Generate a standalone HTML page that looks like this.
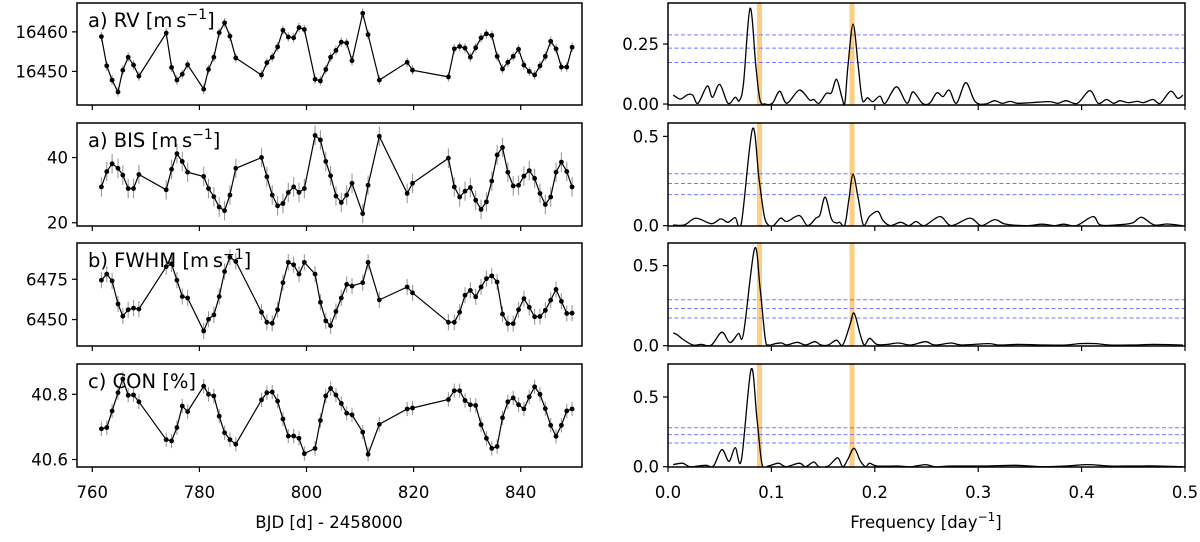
<!DOCTYPE html>
<html><head><meta charset="utf-8"><style>
body{margin:0;background:#fff}
svg text{font-family:"DejaVu Sans","Liberation Sans",sans-serif;fill:#000}
</style></head><body>
<svg id="fig" width="1200" height="537" xmlns="http://www.w3.org/2000/svg"></svg>
<script>
const times=[761.7,762.7,763.7,764.8,765.7,766.7,767.7,768.7,773.8,774.8,775.8,776.8,777.8,780.8,781.7,782.7,783.7,784.7,785.7,786.8,791.6,792.6,793.6,794.6,795.6,796.6,797.6,798.6,799.6,801.6,802.6,803.6,804.5,805.5,806.5,807.5,808.5,810.5,811.5,813.6,818.8,819.8,826.5,827.6,828.6,829.6,830.6,831.6,832.6,833.6,834.6,835.6,836.6,837.6,838.6,839.6,840.6,841.6,842.6,843.6,844.6,845.6,846.6,847.6,848.6,849.6];
const rvValues=[16458.8,16451.4,16447.8,16444.8,16450.3,16453.6,16451.6,16448.8,16459.7,16451.0,16447.8,16449.3,16451.7,16445.5,16450.5,16453.6,16459.8,16462.3,16458.9,16453.4,16449.1,16452.2,16453.6,16456.2,16460.4,16458.7,16458.5,16461.1,16460.6,16448.0,16447.6,16450.5,16453.6,16455.3,16457.4,16457.2,16452.7,16464.7,16459.3,16447.8,16452.3,16450.3,16448.6,16455.7,16456.3,16455.9,16453.6,16456.0,16458.5,16459.5,16459.1,16453.8,16450.6,16452.3,16453.8,16455.6,16451.6,16450.0,16449.1,16451.4,16453.8,16457.6,16455.7,16451.1,16451.1,16456.1];
const bisValues=[31.0,35.7,38.1,36.7,34.6,30.5,30.5,34.8,30.1,36.4,41.2,38.8,35.5,34.2,30.5,28.0,24.8,23.7,28.5,36.7,40.0,34.1,28.5,25.2,25.9,29.3,31.0,29.3,30.5,46.8,45.4,38.8,34.4,28.2,26.2,28.5,32.1,22.8,31.5,46.5,29.0,32.1,39.8,31.0,27.9,29.7,30.8,26.9,24.1,26.4,32.8,40.8,43.1,35.5,31.3,31.5,34.3,36.0,33.6,29.0,25.6,27.9,35.5,38.6,35.7,31.0];
const fwhmValues=[6474.4,6478.2,6474.0,6459.7,6452.1,6456.1,6457.1,6456.5,6482.8,6484.5,6474.4,6464.3,6463.4,6442.9,6450.2,6452.9,6464.3,6479.8,6488.7,6486.1,6454.6,6448.3,6447.7,6456.1,6472.9,6485.5,6484.0,6478.2,6485.5,6478.2,6460.7,6449.2,6446.2,6455.0,6463.4,6471.8,6470.8,6472.9,6485.5,6462.2,6470.2,6466.6,6448.3,6448.3,6454.6,6465.1,6468.1,6464.1,6470.2,6475.4,6477.1,6473.3,6453.4,6447.5,6447.5,6456.1,6463.0,6457.6,6451.7,6451.9,6455.7,6462.0,6468.7,6461.3,6453.8,6454.0];
const conValues=[40.694,40.698,40.749,40.805,40.847,40.797,40.798,40.777,40.661,40.657,40.698,40.764,40.747,40.825,40.800,40.795,40.733,40.682,40.661,40.647,40.783,40.805,40.807,40.779,40.724,40.672,40.672,40.665,40.618,40.634,40.720,40.795,40.818,40.798,40.772,40.742,40.737,40.684,40.616,40.708,40.755,40.758,40.784,40.811,40.811,40.781,40.768,40.766,40.707,40.665,40.634,40.640,40.728,40.777,40.789,40.768,40.755,40.792,40.823,40.800,40.756,40.705,40.671,40.705,40.749,40.755];
const errRV=1.2, errBIS=3, errFWHM=5, errCON=0.022;

const freqRV=[.005,.012,.019,.024,.029,.038,.043,.050,.058,.065,.069,.073,.0794,.085,.089,.094,.101,.108,.115,.127,.137,.141,.146,.153,.158,.163,.168,.171,.174,.179,.184,.188,.193,.198,.205,.210,.221,.231,.237,.246,.253,.260,.266,.272,.279,.288,.297,.307,.316,.323,.331,.338,.352,.369,.377,.385,.396,.408,.416,.424,.431,.437,.445,.454,.460,.469,.476,.486,.493,.498];
const powRV=[.0375,.021,.039,.037,.003,.075,.028,.082,.003,.028,.014,.086,.399,.156,.017,0,.003,.053,.003,.058,.017,.019,.003,.044,.047,.103,.031,.003,.156,.333,.156,.017,.026,.010,.033,.003,.072,.003,.051,.003,.003,.047,.031,.058,.003,.089,.010,0,.014,.003,.011,.003,.006,.010,.003,.014,.003,.056,.003,.019,.003,.014,.006,.011,.006,.019,.003,.053,.024,.037];
const freqBIS=[.005,.016,.027,.042,.051,.058,.065,.071,.0817,.088,.093,.097,.102,.109,.115,.127,.135,.143,.147,.152,.158,.163,.166,.171,.175,.179,.184,.189,.195,.203,.208,.215,.225,.233,.240,.248,.263,.274,.292,.303,.316,.326,.346,.362,.374,.383,.395,.411,.418,.434,.449,.458,.470,.483,.498];
const powBIS=[.004,.004,.042,.011,.038,.019,.045,.015,.542,.264,.057,.004,0,.042,.023,.057,0,.042,.060,.160,.038,.015,.019,.004,.151,.287,.151,.004,.053,.079,.028,0,.019,0,.023,0,.051,0,.042,0,.034,.009,0,.008,0,.008,0,.051,.004,.004,.015,.047,.004,.009,0];
const freqFWHM=[.005,.009,.014,.024,.032,.042,.052,.060,.068,.073,.0837,.089,.094,.097,.104,.110,.115,.125,.133,.142,.148,.155,.163,.169,.176,.180,.186,.190,.195,.202,.212,.223,.235,.249,.258,.274,.284,.310,.320,.339,.362,.385,.398,.414,.427,.450,.470,.498];
const powFWHM=[.080,.068,.042,.004,.008,.004,.084,.019,.076,.076,.605,.363,.046,.004,.013,.017,.004,.021,.004,.025,.004,.004,.034,.004,.131,.203,.068,.004,.046,.008,.008,.017,.004,.025,.004,.017,.004,.013,.004,.008,.004,.004,.013,.013,.004,.004,.008,.004];
const freqCON=[.005,.014,.021,.029,.037,.044,.052,.059,.065,.071,.0804,.086,.091,.097,.107,.114,.127,.133,.141,.146,.155,.164,.169,.174,.180,.186,.191,.195,.202,.222,.235,.249,.258,.274,.307,.336,.362,.385,.406,.427,.450,.473,.498];
const powCON=[.015,.025,0,.005,.010,.005,.123,.039,.137,.049,.699,.348,.017,.005,.025,0,.025,0,.034,0,.005,.064,0,.054,.132,.042,0,.025,.005,.005,0,.015,0,.005,.005,.010,0,.005,.015,.005,.005,.005,0];
const faps=[[.288,.233,.173],[.291,.236,.174],[.287,.232,.173],[.280,.230,.170]];
const bands=[0.0885,0.178];
const rows=[[3,105],[123,226],[243,346],[364,467]];
const leftY=[[16441.5,16467.3],[19.0,50.6],[6433.6,6497.5],[40.577,40.893]];
const rightY=[[-0.004,0.421],[-0.002,0.575],[-0.002,0.641],[-0.002,0.737]];
const leftTicks=[[16450,16460],[20,40],[6450,6475],[40.6,40.8]];
const leftTickLab=[["16450","16460"],["20","40"],["6450","6475"],["40.6","40.8"]];
const rightTicks=[[0,0.25],[0,0.5],[0,0.5],[0,0.5]];
const rightTickLab=[["0.00","0.25"],["0.0","0.5"],["0.0","0.5"],["0.0","0.5"]];
const xTicksL=[760,780,800,820,840];
const xTicksR=[0,0.1,0.2,0.3,0.4,0.5];
const xTickLabR=["0.0","0.1","0.2","0.3","0.4","0.5"];
const labels=["a) RV [m\u2009s","a) BIS [m\u2009s","b) FWHM [m\u2009s","c) CON [%]"];
const series=[rvValues,bisValues,fwhmValues,conValues];
const errs=[errRV,errBIS,errFWHM,errCON];
const freqs=[freqRV,freqBIS,freqFWHM,freqCON];
const pows=[powRV,powBIS,powFWHM,powCON];
const names=["rv","bis","fwhm","con"];

const NS="http://www.w3.org/2000/svg";
const svg=document.getElementById('fig');
function mk(tag,attrs,parent){const e=document.createElementNS(NS,tag);for(const k in attrs)e.setAttribute(k,attrs[k]);(parent||svg).appendChild(e);return e;}
const LX0=77,LX1=582,RX0=668,RX1=1185;
const TFS=16.5;
const xL=d=>92.3+(d-760)*5.355;
const xR=f=>RX0+f*(RX1-RX0)/0.5;

function smoothPath(pts){let d="M"+pts[0][0].toFixed(1)+","+pts[0][1].toFixed(1);
 for(let i=0;i<pts.length-1;i++){const p0=pts[i-1]||pts[i],p1=pts[i],p2=pts[i+1],p3=pts[i+2]||p2;
  const c1=[p1[0]+(p2[0]-p0[0])/6,p1[1]+(p2[1]-p0[1])/6],c2=[p2[0]-(p3[0]-p1[0])/6,p2[1]-(p3[1]-p1[1])/6];
  d+="C"+c1[0].toFixed(1)+","+c1[1].toFixed(1)+" "+c2[0].toFixed(1)+","+c2[1].toFixed(1)+" "+p2[0].toFixed(1)+","+p2[1].toFixed(1);}
 return d;}

const defs=mk('defs',{});
rows.forEach((r,i)=>{
 const [t,b]=r;
 const cpL=mk('clipPath',{id:'cl'+i},defs);mk('rect',{x:LX0,y:t,width:LX1-LX0,height:b-t},cpL);
 const cpR=mk('clipPath',{id:'cr'+i},defs);mk('rect',{x:RX0,y:t,width:RX1-RX0,height:b-t},cpR);
 const [y0,y1]=leftY[i];const yL=v=>b-(v-y0)/(y1-y0)*(b-t);
 const [r0,r1]=rightY[i];const yR=v=>b-(v-r0)/(r1-r0)*(b-t);
 const gL=mk('g',{'clip-path':'url(#cl'+i+')'});
 
 
 const vals=series[i];
 vals.forEach((v,j)=>{const e=mk('line',{x1:xL(times[j]),x2:xL(times[j]),y1:yL(v-errs[i]),y2:yL(v+errs[i]),stroke:'#9a9a9a','stroke-width':1.1},gL);
  
  });
 const line=mk('polyline',{points:vals.map((v,j)=>xL(times[j]).toFixed(1)+','+yL(v).toFixed(1)).join(' '),fill:'none',stroke:'#000','stroke-width':1.2},gL);
 
 
 vals.forEach((v,j)=>{const c=mk('circle',{cx:xL(times[j]),cy:yL(v),r:2.4,fill:'#000'},gL);
  
  });
 const fr=mk('rect',{x:LX0,y:t,width:LX1-LX0,height:b-t,fill:'none',stroke:'#000','stroke-width':1.5});
 
 
 leftTicks[i].forEach((v,k)=>{mk('line',{x1:LX0-5,x2:LX0,y1:yL(v),y2:yL(v),stroke:'#000','stroke-width':1.2});
  const tx=mk('text',{x:LX0-9,y:yL(v)+6,'text-anchor':'end','font-size':TFS});tx.textContent=leftTickLab[i][k];
  
  });
 xTicksL.forEach(d=>mk('line',{x1:xL(d),x2:xL(d),y1:b,y2:b+5,stroke:'#000','stroke-width':1.2}));
 const lab=mk('text',{x:88,y:t+24,'font-size':19.5});
 
 
 if(i<3){lab.textContent=labels[i];const ts=mk('tspan',{dy:-8,'font-size':14},lab);ts.textContent='\u22121';const ts2=mk('tspan',{dy:8},lab);ts2.textContent=']';}
 else lab.textContent=labels[i];
 const gR=mk('g',{'clip-path':'url(#cr'+i+')'});
 
 
 bands.forEach(f=>{const e=mk('rect',{x:xR(f)-2.5,y:t,width:5,height:b-t,fill:'#fdc46a','fill-opacity':0.85},gR);
  
  });
 faps[i].forEach(v=>{const e=mk('line',{x1:RX0,x2:RX1,y1:yR(v),y2:yR(v),stroke:'#7777ff','stroke-width':1,'stroke-dasharray':'4,2.5'},gR);
  
  });
 const pts=freqs[i].map((f,j)=>[xR(f),yR(pows[i][j])]);
 const p=mk('path',{d:smoothPath(pts),fill:'none',stroke:'#000','stroke-width':1.3},gR);
 
 
 const fr2=mk('rect',{x:RX0,y:t,width:RX1-RX0,height:b-t,fill:'none',stroke:'#000','stroke-width':1.5});
 
 
 rightTicks[i].forEach((v,k)=>{mk('line',{x1:RX0-5,x2:RX0,y1:yR(v),y2:yR(v),stroke:'#000','stroke-width':1.2});
  const tx=mk('text',{x:RX0-9,y:yR(v)+6,'text-anchor':'end','font-size':TFS});tx.textContent=rightTickLab[i][k];
  
  });
 xTicksR.forEach(f=>mk('line',{x1:xR(f),x2:xR(f),y1:b,y2:b+5,stroke:'#000','stroke-width':1.2}));
});
const bot=rows[3][1];
xTicksL.forEach(d=>{const t=mk('text',{x:xL(d),y:bot+31,'text-anchor':'middle','font-size':TFS});t.textContent=String(d);
 
 });
xTicksR.forEach((f,k)=>{const t=mk('text',{x:xR(f),y:bot+31,'text-anchor':'middle','font-size':TFS});t.textContent=xTickLabR[k];
 
 });
const xt=mk('text',{x:329,y:528,'text-anchor':'middle','font-size':TFS});xt.textContent='BJD [d] - 2458000';


const ft=mk('text',{x:926,y:528,'text-anchor':'middle','font-size':TFS});ft.textContent='Frequency [day';


const s1=mk('tspan',{dy:-7,'font-size':12},ft);s1.textContent='\u22121';
const s2=mk('tspan',{dy:7},ft);s2.textContent=']';
</script>
</body></html>
